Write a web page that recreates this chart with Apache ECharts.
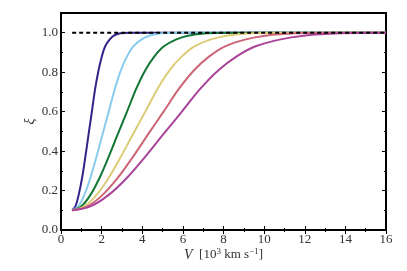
<!DOCTYPE html>
<html><head><meta charset="utf-8">
<script src="https://cdn.jsdelivr.net/npm/echarts@6/dist/echarts.min.js"></script>
<style>html,body{margin:0;padding:0;background:#fff}#c{width:407px;height:271px}</style>
</head><body><div id="c"></div>
<script>
// xi values shared by all curves; each curve lists the V at which it reaches them
const xiLevels = [0.100, 0.120, 0.178, 0.265, 0.372, 0.487, 0.600, 0.715, 0.810, 0.880, 0.930, 0.965, 0.985, 0.997, 1.000, 1.000];
const vNavy    = [0.55, 0.71, 0.87, 1.04, 1.20, 1.36, 1.52, 1.68, 1.85, 2.01, 2.17, 2.39, 2.60, 2.93, 3.36, 3.79];
const vSky     = [0.55, 0.85, 1.15, 1.45, 1.75, 2.05, 2.35, 2.65, 2.95, 3.25, 3.55, 3.95, 4.35, 4.95, 5.75, 6.55];
const vGreen   = [0.55, 1.00, 1.45, 1.90, 2.35, 2.80, 3.25, 3.70, 4.15, 4.60, 5.05, 5.65, 6.25, 7.15, 8.35, 9.55];
const vSand    = [0.55, 1.15, 1.75, 2.35, 2.95, 3.55, 4.15, 4.75, 5.35, 5.95, 6.55, 7.35, 8.15, 9.35, 10.95, 12.55];
const vRose    = [0.55, 1.30, 2.05, 2.80, 3.55, 4.30, 5.05, 5.80, 6.55, 7.30, 8.05, 9.05, 10.05, 11.55, 13.55, 15.55];
const vPurple  = [0.55, 1.45, 2.35, 3.25, 4.15, 5.05, 5.95, 6.85, 7.75, 8.65, 9.55, 10.75, 11.95, 13.75, 16.00];
const refLineV = [0.55, 16];
const refLineXi = [1.0, 1.0];
const xMax = 16;
const curveColors = ['#332288', '#88CCEE', '#117733', '#DDCC77', '#CC6677', '#AA4499'];

const curves = [vNavy, vSky, vGreen, vSand, vRose, vPurple];
const font = 'Liberation Serif';

function toPairs(vs) {
  const d = vs.map((v, i) => [v, xiLevels[i]]);
  if (vs[vs.length - 1] < xMax) d.push([xMax, 1.0]);
  return d;
}

const series = curves.map((vs, k) => ({
  type: 'line', data: toPairs(vs), showSymbol: false, symbol: 'none',
  smooth: 0.35, xAxisIndex: 0, yAxisIndex: 0,
  lineStyle: { color: curveColors[k], width: 2 }, z: 3 + k
}));
series.push({
  type: 'line', data: refLineV.map((v, i) => [v, refLineXi[i]]), symbol: 'none',
  xAxisIndex: 0, yAxisIndex: 0,
  lineStyle: { color: '#000', width: 2, type: [4, 3] }, z: 20
});

const tickStyle = { color: '#000', width: 1 };
function xAx(pos, withLabels) {
  return {
    type: 'value', min: 0, max: 16, interval: 2, position: pos,
    axisLine: { show: false }, splitLine: { show: false },
    axisTick: { show: true, inside: true, length: 4, lineStyle: tickStyle },
    minorTick: { show: true, splitNumber: 2, length: 2, lineStyle: tickStyle },
    axisLabel: withLabels ? { show: true, margin: 3, fontFamily: font, fontSize: 13, color: '#333' } : { show: false }
  };
}
function yAx(pos, interval, len, withLabels) {
  return {
    type: 'value', min: 0, max: 1.1, interval: interval, position: pos,
    axisLine: { show: false }, splitLine: { show: false },
    axisTick: { show: true, inside: true, length: len, lineStyle: tickStyle },
    axisLabel: withLabels ? { show: true, margin: 3, fontFamily: font, fontSize: 13, color: '#333',
      formatter: v => (v > 1.05 ? '' : v.toFixed(1)) } : { show: false }
  };
}

const xA = [xAx('bottom', true), xAx('top', false)];
xA[0].name = '{i|V}{n|  [10}{s|3}{n| km s}{s|−1}{n|]}';
xA[0].nameLocation = 'middle';
xA[0].nameGap = 17;
xA[0].nameMoveOverlap = false;
xA[0].nameTextStyle = {
  rich: {
    i: { fontFamily: font, fontStyle: 'italic', fontSize: 14, color: '#333', lineHeight: 16 },
    n: { fontFamily: font, fontSize: 13, color: '#333', lineHeight: 16 },
    s: { fontFamily: font, fontSize: 9, color: '#333', lineHeight: 10, verticalAlign: 'top' }
  }
};
const yA = [yAx('left', 0.2, 4, true), yAx('left', 0.1, 2, false), yAx('right', 0.2, 4, false), yAx('right', 0.1, 2, false)];
yA[0].name = 'ξ';
yA[0].nameLocation = 'middle';
yA[0].nameGap = 24;
yA[0].nameMoveOverlap = false;
yA[0].nameTextStyle = { fontFamily: font, fontStyle: 'italic', fontSize: 14, color: '#333' };

const chart = echarts.init(document.getElementById('c'), null, { renderer: 'canvas' });
chart.setOption({
  animation: false,
  backgroundColor: '#fff',
  grid: { left: 61, right: 21, top: 13, bottom: 41, show: true, borderColor: '#000', borderWidth: 2, backgroundColor: 'transparent' },
  xAxis: xA,
  yAxis: yA,
  series: series
});
</script></body></html>
